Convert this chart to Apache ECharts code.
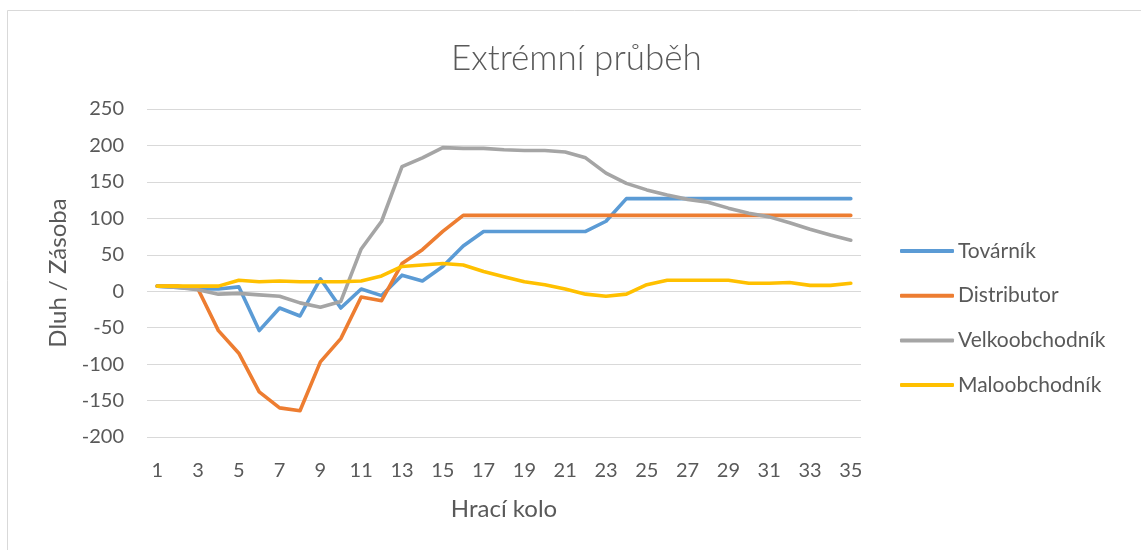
<!DOCTYPE html>
<html>
<head>
<meta charset="utf-8">
<script src="https://cdn.jsdelivr.net/npm/echarts@6/dist/echarts.min.js"></script>
<style>
html,body{margin:0;padding:0;background:#fff;}
#c{width:1141px;height:550px;}
</style>
</head>
<body>
<div id="c"></div>
<script>
const rounds = Array.from({length: 35}, (_, i) => String(i + 1));
const tovarnik = [7, 5, 3, 3, 6, -54, -23, -34, 17, -23, 3, -6, 22, 14, 34, 62, 82, 82, 82, 82, 82, 82, 96, 127, 127, 127, 127, 127, 127, 127, 127, 127, 127, 127, 127];
const distributor = [7, 7, 3, -54, -85, -138, -160, -164, -97, -65, -8, -13, 38, 57, 82, 104, 104, 104, 104, 104, 104, 104, 104, 104, 104, 104, 104, 104, 104, 104, 104, 104, 104, 104, 104];
const velkoobchodnik = [7, 5, 2, -4, -3, -5, -7, -16, -22, -14, 58, 96, 171, 183, 197, 196, 196, 194, 193, 193, 191, 183, 162, 148, 139, 132, 126, 122, 114, 107, 102, 94, 85, 77, 70];
const maloobchodnik = [7, 7, 7, 7, 15, 13, 14, 13, 13, 13, 14, 21, 34, 36, 38, 36, 27, 20, 13, 9, 3, -4, -7, -4, 9, 15, 15, 15, 15, 11, 11, 12, 8, 8, 11];
const seriesNames = ['Továrník', 'Distributor', 'Velkoobchodník', 'Maloobchodník'];
const colors = ['#5b9bd5', '#ed7d31', '#a5a5a5', '#ffc000'];
const yTicks = {min: -200, max: 250, interval: 50};

const FONT = 'Lato';
const TXT = '#595959';
const chart = echarts.init(document.getElementById('c'), null, {renderer: 'canvas'});
const mk = (name, data, i) => ({
  name, type: 'line', data, symbol: 'none', smooth: false,
  lineStyle: {width: 3.6, color: colors[i], cap: 'round', join: 'round'},
  itemStyle: {color: colors[i]}
});
chart.setOption({
  animation: false,
  backgroundColor: '#fff',
  color: colors,
  graphic: [{
    type: 'rect', shape: {x: 7.5, y: 10.5, width: 1200, height: 600},
    style: {fill: 'none', stroke: '#d9d9d9', lineWidth: 1}, silent: true
  }],
  title: {
    text: 'Extrémní průběh', left: 451, top: 41, padding: 0,
    textStyle: {fontFamily: FONT, fontSize: 35, fontWeight: 300, color: TXT}
  },
  legend: {
    orient: 'vertical', left: 900, top: 240, itemGap: 22.7, padding: 0,
    icon: 'roundRect', itemWidth: 54, itemHeight: 4,
    textStyle: {fontFamily: FONT, fontSize: 21, color: TXT, lineHeight: 22, padding: [0, 0, 0, -1]},
    data: seriesNames
  },
  grid: {left: 147, right: 280, top: 109, bottom: 113, containLabel: false},
  xAxis: {
    type: 'category', data: rounds, boundaryGap: true,
    name: 'Hrací kolo', nameLocation: 'middle', nameGap: 60,
    nameTextStyle: {fontFamily: FONT, fontSize: 24, color: TXT},
    axisLine: {show: false}, axisTick: {show: false},
    axisLabel: {interval: 1, margin: 24, fontFamily: FONT, fontSize: 20, color: TXT}
  },
  yAxis: {
    type: 'value', min: yTicks.min, max: yTicks.max, interval: yTicks.interval,
    name: 'Dluh / Zásoba', nameLocation: 'middle', nameGap: 77,
    nameTextStyle: {fontFamily: FONT, fontSize: 24, color: TXT},
    axisLine: {show: false}, axisTick: {show: false},
    axisLabel: {margin: 23, fontFamily: FONT, fontSize: 20, color: TXT},
    splitLine: {lineStyle: {color: '#d9d9d9', width: 1}}
  },
  series: [
    mk(seriesNames[0], tovarnik, 0),
    mk(seriesNames[1], distributor, 1),
    mk(seriesNames[2], velkoobchodnik, 2),
    mk(seriesNames[3], maloobchodnik, 3)
  ]
});
</script>
</body>
</html>
